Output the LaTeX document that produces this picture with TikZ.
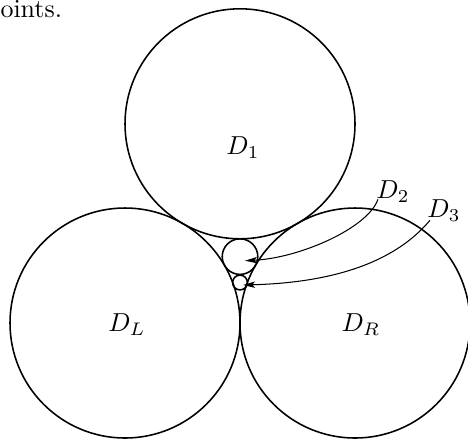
\documentclass[tikz,border=0pt]{standalone}
\usepackage{amsmath,amssymb}
\usetikzlibrary{arrows.meta}

\begin{document}
\begin{tikzpicture}[x=0.385pt,y=-0.385pt,
    disk/.style={draw, circle, inner sep=0pt, line width=0.6pt},
    lab/.style={inner sep=0pt},
    pointer/.style={-{Stealth[length=4.6pt,width=2.4pt,inset=1pt]}, line width=0.4pt}]
                \clip (0,0) rectangle (468,438);

                % Text cut off at the top of the page
                \node[lab, anchor=base west] (frag) at (0,17.5) {oints.};

                % Three large disks
                \node[disk, minimum size=88.55pt] (D1) at (240,123.8) {};
                \node[disk, minimum size=88.55pt] (DL) at (125,323) {};
                \node[disk, minimum size=88.55pt] (DR) at (355,323) {};

                % Small disks in the gap
                \node[disk, minimum size=13.7pt] (D2) at (240,256.6) {};
                \node[disk, minimum size=5.7pt] (D3) at (240,282.5) {};

                % Labels
                \node[lab] (d1lab) at (243,148) {$D_1$};
                \node[lab] (dllab) at (127,325) {$D_L$};
                \node[lab] (drlab) at (361,325) {$D_R$};
                \node[lab] (d2lab) at (393,192) {$D_2$};
                \node[lab] (d3lab) at (444,211) {$D_3$};

                % Pointers
                \coordinate (d2tip) at (245,260.7);
                \coordinate (d3tip) at (243,285);
                \draw[pointer] ([shift={(2,-4)}]d2lab.south west)
                    .. controls (368,228) and (300,258) .. (d2tip);
                \draw[pointer] ([shift={(3,-2)}]d3lab.south west)
                    .. controls (390,268) and (320,283) .. (d3tip);
            \end{tikzpicture}
\end{document}
